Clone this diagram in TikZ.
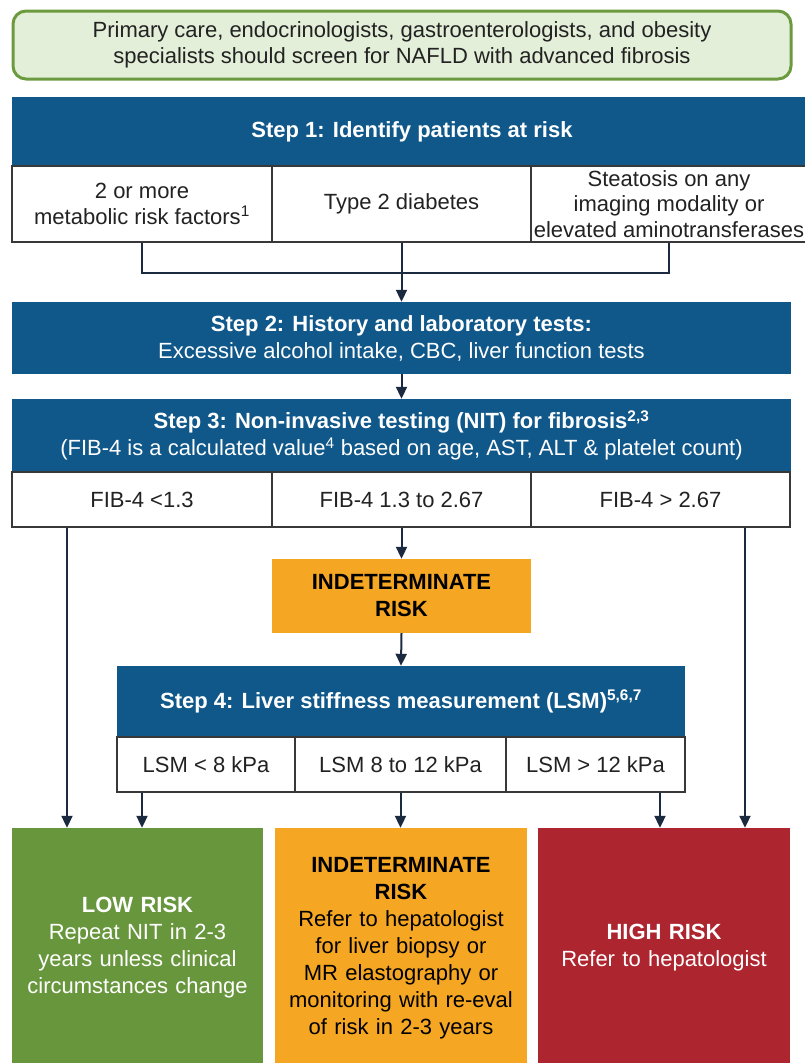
\documentclass[tikz,border=0pt]{standalone}
\usepackage{fontspec}
\setmainfont{Liberation Sans}
\usetikzlibrary{arrows.meta}
\definecolor{stepblue}{HTML}{10588A}
\definecolor{lightgreen}{HTML}{E3EFD8}
\definecolor{framegreen}{HTML}{6B9A3F}
\definecolor{lowgreen}{HTML}{68963D}
\definecolor{midorange}{HTML}{F5A623}
\definecolor{highred}{HTML}{AD252F}
\definecolor{arrownavy}{HTML}{1C2A3F}
\definecolor{celltext}{HTML}{222222}

\begin{document}
\begin{tikzpicture}[x=1pt,y=-1pt,
    every node/.style={inner sep=0pt, align=center, font=\fontsize{22}{25.5}\selectfont},
    screenbox/.style={draw=framegreen, line width=3pt, fill=lightgreen, rounded corners=13pt, text=celltext},
    stephead/.style={fill=stepblue, text=white, font=\fontsize{22}{27}\selectfont},
    cellbox/.style={draw=celltext!90, line width=1.5pt, fill=white, text=celltext},
    riskbox/.style={text width=245pt, font=\fontsize{22}{27}\selectfont},
    arr/.style={draw=arrownavy, line width=2pt, -{Triangle[length=12pt,width=11pt]}}]
    \useasboundingbox (0,0) rectangle (804,1063);
    \node [screenbox, minimum width=778, minimum height=68] (screen) at (402,45)
        {Primary care, endocrinologists, gastroenterologists, and obesity\\specialists should screen for NAFLD with advanced fibrosis};
    \node [stephead, minimum width=800, minimum height=70] (step1) at (412,131.5)
        {\textbf{Step 1: Identify patients at risk}};
    \node [cellbox, minimum width=260, minimum height=76] (metab) at (142,204)
        {2 or more\\metabolic risk factors\textsuperscript{1}};
    \node [cellbox, minimum width=259, minimum height=76] (diab) at (401.5,204)
        {Type 2 diabetes};
    \node [cellbox, minimum width=276, minimum height=76] (steat) at (669,204)
        {Steatosis on any\\imaging modality or\\elevated aminotransferases};
    \node [stephead, minimum width=779, minimum height=72] (step2) at (401.5,338)
        {\textbf{Step 2: History and laboratory tests:}\\Excessive alcohol intake, CBC, liver function tests};
    \node [stephead, minimum width=779, minimum height=73] (step3) at (401.5,435.5)
        {\textbf{Step 3: Non-invasive testing (NIT) for fibrosis\textsuperscript{2,3}}\\(FIB-4 is a calculated value\textsuperscript{4} based on age, AST, ALT \& platelet count)};
    \node [cellbox, minimum width=260, minimum height=55] (fibl) at (142,499.5) {FIB-4 <1.3};
    \node [cellbox, minimum width=259, minimum height=55] (fibm) at (401.5,499.5) {FIB-4 1.3 to 2.67};
    \node [cellbox, minimum width=259, minimum height=55] (fibh) at (660.5,499.5) {FIB-4 > 2.67};
    \node [fill=midorange, minimum width=259, minimum height=74, font=\fontsize{22}{27}\selectfont] (indet) at (401.5,596)
        {\textbf{INDETERMINATE}\\\textbf{RISK}};
    \node [stephead, minimum width=568, minimum height=71] (step4) at (401,701.5)
        {\textbf{Step 4: Liver stiffness measurement (LSM)\textsuperscript{5,6,7}}};
    \node [cellbox, minimum width=178, minimum height=55] (lsml) at (206,764.5) {LSM < 8 kPa};
    \node [cellbox, minimum width=211, minimum height=55] (lsmm) at (400.5,764.5) {LSM 8 to 12 kPa};
    \node [cellbox, minimum width=179, minimum height=55] (lsmh) at (595.5,764.5) {LSM > 12 kPa};
    \node [fill=lowgreen, minimum width=251, minimum height=240] (low) at (137.5,948) {};
    \node [riskbox, text=white] at (low.center)
        {\textbf{LOW RISK}\\Repeat NIT in 2-3\\years unless clinical\\circumstances change};
    \node [fill=midorange, minimum width=252, minimum height=240] (mid) at (401,948) {};
    \node [riskbox, text=black] at (mid.center)
        {\textbf{INDETERMINATE}\\\textbf{RISK}\\Refer to hepatologist\\for liver biopsy or\\MR elastography or\\monitoring with re-eval\\of risk in 2-3 years};
    \node [fill=highred, minimum width=252, minimum height=240] (high) at (664,948) {};
    \node [riskbox, text=white] at (high.center)
        {\textbf{HIGH RISK}\\Refer to hepatologist};
    \draw [draw=arrownavy, line width=2pt] (metab.south) -- (metab.south |- 0,273) -- (steat.south |- 0,273) -- (steat.south);
    \draw [arr] (diab.south) -- (step2.north);
    \draw [arr] (step2.south) -- (step3.north);
    \draw [arr] (fibm.south) -- (indet.north);
    \draw [arr] (indet.south) -- (step4.north);
    \draw [arr] ([xshift=-75pt]fibl.south) -- ([xshift=-75pt]fibl.south |- low.north);
    \draw [arr] ([xshift=84.5pt]fibh.south) -- ([xshift=84.5pt]fibh.south |- high.north);
    \draw [arr] ([xshift=-64pt]lsml.south) -- ([xshift=-64pt]lsml.south |- low.north);
    \draw [arr] (lsmm.south) -- (lsmm.south |- mid.north);
    \draw [arr] ([xshift=64.5pt]lsmh.south) -- ([xshift=64.5pt]lsmh.south |- high.north);
\end{tikzpicture}
\end{document}
